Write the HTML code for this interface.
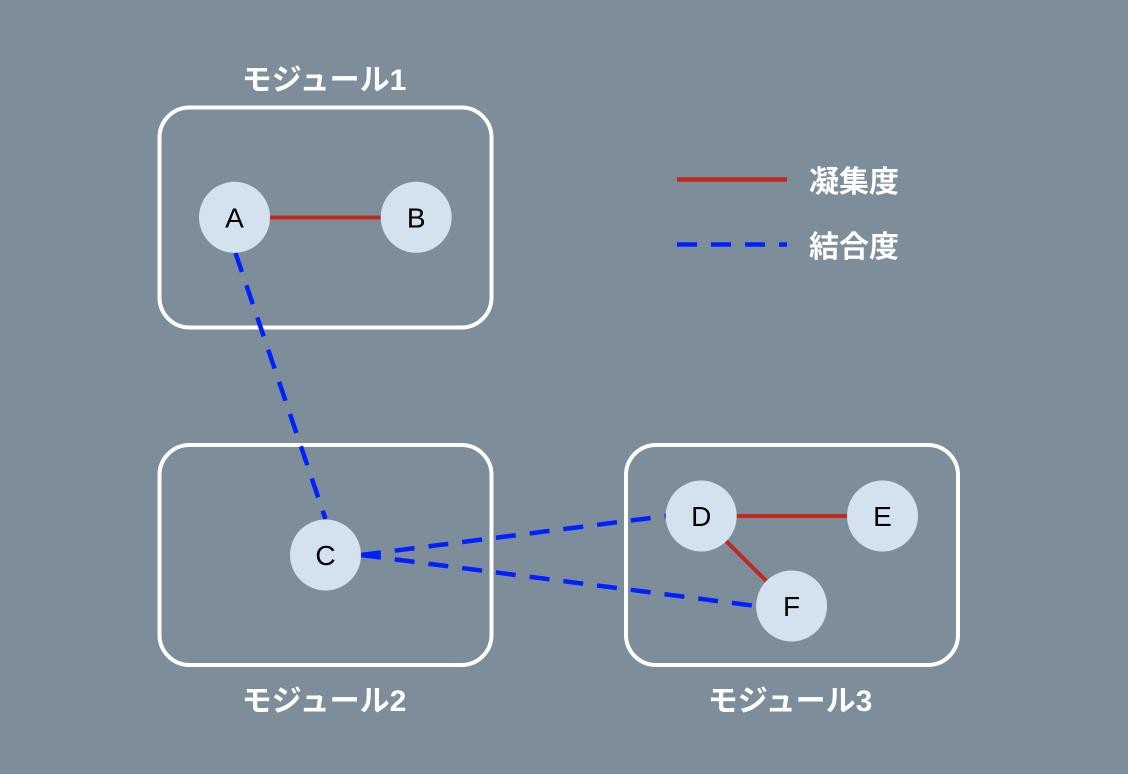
<!DOCTYPE html>
<html>
<head>
<meta charset="utf-8">
<style>
  html, body { margin: 0; padding: 0; }
  body { width: 1128px; height: 774px; background: #7d8e9a; overflow: hidden; }
  svg { display: block; }
  .lbl { font-family: "Liberation Sans", "Noto Sans CJK JP", sans-serif; font-weight: bold; font-size: 30px; fill: #ffffff; }
  .node { font-family: "Liberation Sans", sans-serif; font-size: 28px; fill: #000000; }
</style>
</head>
<body>
<svg width="1128" height="774" viewBox="0 0 1128 774" xmlns="http://www.w3.org/2000/svg">
  <rect x="0" y="0" width="1128" height="774" fill="#7d8e9a"/>

  <!-- module boxes -->
  <rect x="159.5" y="107.5" width="332" height="220" rx="30" ry="30" fill="none" stroke="#ffffff" stroke-width="4"/>
  <rect x="159.5" y="445" width="332" height="220" rx="30" ry="30" fill="none" stroke="#ffffff" stroke-width="4"/>
  <rect x="626" y="445" width="332" height="220" rx="30" ry="30" fill="none" stroke="#ffffff" stroke-width="4"/>

  <!-- module labels -->
  <text class="lbl" x="324" y="90" text-anchor="middle">モジュール1</text>
  <text class="lbl" x="324" y="711" text-anchor="middle">モジュール2</text>
  <text class="lbl" x="790" y="711" text-anchor="middle">モジュール3</text>

  <!-- cohesion (red) lines -->
  <line x1="234.5" y1="217.5" x2="416" y2="217.5" stroke="#c0291f" stroke-width="4"/>
  <line x1="701" y1="516" x2="882.5" y2="516" stroke="#c0291f" stroke-width="4"/>
  <line x1="701" y1="516" x2="791.5" y2="606" stroke="#c0291f" stroke-width="4"/>

  <!-- coupling (blue dashed) lines -->
  <line x1="235.5" y1="253" x2="325.5" y2="519" stroke="#0020ff" stroke-width="4.5" stroke-dasharray="20 14"/>
  <line x1="361" y1="555" x2="666" y2="516" stroke="#0020ff" stroke-width="4.5" stroke-dasharray="20 14"/>
  <line x1="361" y1="555" x2="756" y2="606" stroke="#0020ff" stroke-width="4.5" stroke-dasharray="20 14"/>

  <!-- nodes -->
  <circle cx="234.5" cy="217.3" r="35.5" fill="#d4e1ef"/>
  <circle cx="416.2" cy="217.3" r="35.5" fill="#d4e1ef"/>
  <circle cx="325.5" cy="555" r="35.5" fill="#d4e1ef"/>
  <circle cx="701.2" cy="516" r="35.5" fill="#d4e1ef"/>
  <circle cx="882.5" cy="516" r="35.5" fill="#d4e1ef"/>
  <circle cx="791.6" cy="606" r="35.5" fill="#d4e1ef"/>

  <text class="node" x="234.5" y="227.5" text-anchor="middle">A</text>
  <text class="node" x="416.2" y="227.5" text-anchor="middle">B</text>
  <text class="node" x="325.5" y="565" text-anchor="middle">C</text>
  <text class="node" x="701.2" y="526" text-anchor="middle">D</text>
  <text class="node" x="882.5" y="526" text-anchor="middle">E</text>
  <text class="node" x="791.6" y="616" text-anchor="middle">F</text>

  <!-- legend -->
  <line x1="677" y1="179.5" x2="787" y2="179.5" stroke="#c0291f" stroke-width="4.5"/>
  <line x1="677" y1="244.5" x2="787" y2="244.5" stroke="#0020ff" stroke-width="4.5" stroke-dasharray="20 14"/>
  <text class="lbl" x="809" y="192">凝集度</text>
  <text class="lbl" x="809" y="257">結合度</text>
</svg>
</body>
</html>
